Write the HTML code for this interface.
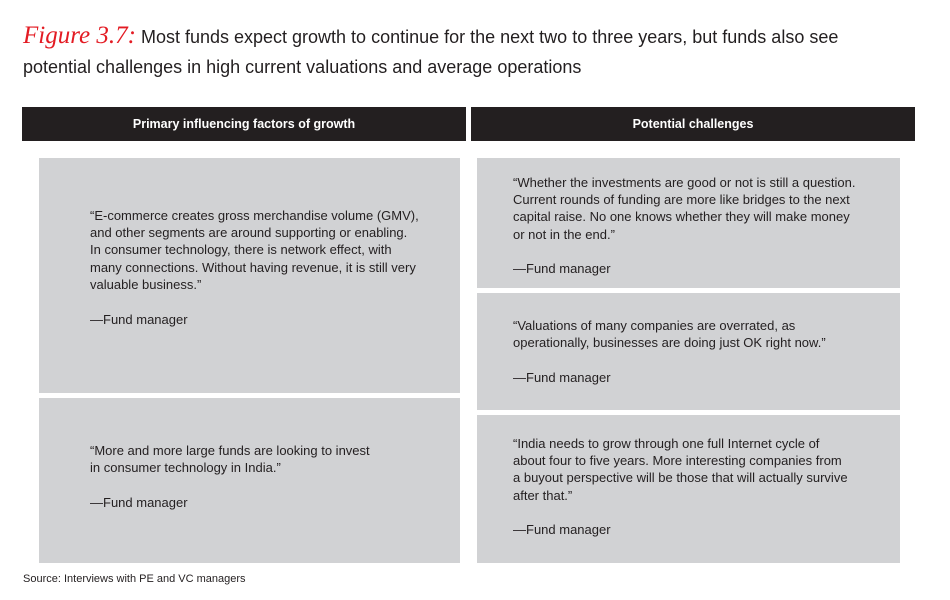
<!DOCTYPE html>
<html><head><meta charset="utf-8"><style>
body{margin:0;width:950px;height:600px;background:#fff;position:relative;overflow:hidden;font-family:"Liberation Sans",sans-serif;color:#231f20}
.a{position:absolute}
.hdr{background:#231f20;color:#fff;font-weight:bold;font-size:12.5px;text-align:center;line-height:34px;height:34px;top:107px}
.box{background:#d1d2d4}
.q{font-size:13px;line-height:17.2px;white-space:nowrap}
.q p{margin:0}
.q .f{margin-top:17.5px}
</style></head><body>
<div class="a" style="left:23px;top:21px;width:925px;font-size:18px;line-height:30px;white-space:nowrap">
<span style="color:#e31b23;font-family:'Liberation Serif',serif;font-style:italic;font-size:25px">Figure 3.7:</span> Most funds expect growth to continue for the next two to three years, but funds also see<br>potential challenges in high current valuations and average operations</div>
<div class="a hdr" style="left:22px;width:444px">Primary influencing factors of growth</div>
<div class="a hdr" style="left:471px;width:444px">Potential challenges</div>
<div class="a box" style="left:39px;top:158px;width:421px;height:235px"></div>
<div class="a box" style="left:39px;top:398px;width:421px;height:165px"></div>
<div class="a box" style="left:477px;top:158px;width:423px;height:130px"></div>
<div class="a box" style="left:477px;top:293px;width:423px;height:117px"></div>
<div class="a box" style="left:477px;top:415px;width:423px;height:148px"></div>
<div class="a q" style="left:90px;top:207px"><p>“E-commerce creates gross merchandise volume (GMV),<br>and other segments are around supporting or enabling.<br>In consumer technology, there is network effect, with<br>many connections. Without having revenue, it is still very<br>valuable business.”</p><p class="f">—Fund manager</p></div>
<div class="a q" style="left:90px;top:442px"><p>“More and more large funds are looking to invest<br>in consumer technology in India.”</p><p class="f">—Fund manager</p></div>
<div class="a q" style="left:513px;top:174px"><p>“Whether the investments are good or not is still a question.<br>Current rounds of funding are more like bridges to the next<br>capital raise. No one knows whether they will make money<br>or not in the end.”</p><p class="f">—Fund manager</p></div>
<div class="a q" style="left:513px;top:317px"><p>“Valuations of many companies are overrated, as<br>operationally, businesses are doing just OK right now.”</p><p class="f">—Fund manager</p></div>
<div class="a q" style="left:513px;top:435px"><p>“India needs to grow through one full Internet cycle of<br>about four to five years. More interesting companies from<br>a buyout perspective will be those that will actually survive<br>after that.”</p><p class="f">—Fund manager</p></div>
<div class="a" style="left:23px;top:573px;font-size:11px">Source: Interviews with PE and VC managers</div>
</body></html>
